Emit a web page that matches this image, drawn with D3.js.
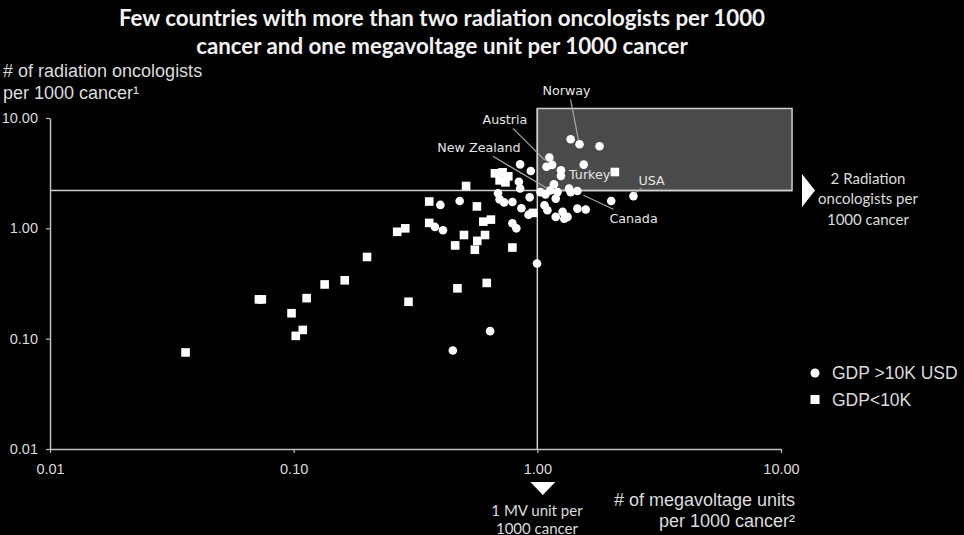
<!DOCTYPE html>
<html><head><meta charset="utf-8">
<script src="https://cdn.jsdelivr.net/npm/d3@7"></script>
<style>html,body{margin:0;background:#000;} svg{display:block;background:#000}</style>
</head><body><svg id="c" width="964" height="535"></svg>
<script>
// ---------------- data ----------------
const titleLines = ["Few countries with more than two radiation oncologists per 1000",
                    "cancer and one megavoltage unit per 1000 cancer"];
const xTicks = [0.01, 0.1, 1, 10];
const xTickLabels = ["0.01", "0.10", "1.00", "10.00"];
const yTicks = [0.01, 0.1, 1, 10];
const yTickLabels = ["0.01", "0.10", "1.00", "10.00"];
const yTitleLines = ["# of radiation oncologists", "per 1000 cancer\u00B9"];
const xTitleLines = ["# of megavoltage units", "per 1000 cancer\u00B2"];
const legendLabels = ["GDP >10K USD", "GDP<10K"];

// GDP > 10K USD (circles): [MV units per 1000 cancer, radiation oncologists per 1000 cancer]
const highGdp = [
  [0.45,0.078],[0.64,0.117],[0.997,0.48],[0.40,1.63],[0.48,1.77],[0.38,1.03],[0.41,0.96],
  [0.85,3.80],[0.94,3.31],[0.84,2.64],[0.85,2.30],[0.69,2.08],[0.70,1.83],[0.73,1.72],
  [0.79,1.73],[0.93,1.91],[0.86,1.52],[0.92,1.33],[0.79,1.11],[0.82,1.00],
  [1.37,6.41],[1.49,5.78],[1.80,5.54],[1.12,4.38],[1.09,3.61],[1.15,3.76],[1.55,3.78],
  [1.25,3.36],[1.25,2.99],[1.17,2.51],[1.13,2.21],[1.21,2.13],[1.35,2.29],[1.46,2.18],
  [1.37,2.13],[1.03,2.13],[1.08,2.03],[1.19,1.86],[2.01,1.77],[2.48,1.96],[1.07,1.62],
  [1.10,1.46],[1.19,1.27],[1.27,1.41],[1.33,1.27],[1.46,1.51],[1.58,1.48],[1.29,1.22]
];
// GDP < 10K (squares)
const lowGdp = [
  [0.036,0.075],[0.072,0.227],[0.074,0.227],[0.098,0.17],[0.102,0.106],[0.109,0.12],
  [0.113,0.233],[0.134,0.31],[0.162,0.338],[0.20,0.55],[0.266,0.93],[0.287,1.0],
  [0.296,0.216],[0.36,1.75],[0.36,1.12],[0.51,2.42],[0.565,1.58],[0.50,0.87],[0.46,0.70],
  [0.61,0.87],[0.60,1.15],[0.645,1.20],[0.567,0.77],[0.554,0.64],[0.79,0.67],[0.47,0.286],
  [0.62,0.32],[0.67,3.15],[0.72,3.22],[0.76,2.96],[0.70,2.72],[0.74,2.61],[0.96,1.38],
  [2.08,3.24]
];

// reference thresholds and highlighted box extent
const refX = 1;      // 1 MV unit per 1000 cancer
const refY = 2.2;    // radiation oncologist line as drawn
const boxXMax = 11.1;
const boxYMax = 12.2;

const countryNames = ["Norway", "Austria", "New Zealand", "Turkey", "USA", "Canada"];
const countryPoints = [[1.49,5.78],[1.09,3.61],[1.13,2.21],[2.08,3.24],[2.48,1.96],[1.46,2.18]];
const rightNote = ["2 Radiation", "oncologists per", "1000 cancer"];
const bottomNote = ["1 MV unit per", "1000 cancer"];

// ---------------- layout ----------------
const labelLayout = {
  "Norway":      {anchor:"middle", tx:-13,  ty:-49.5, line:[-9,-45,-1,-4]},
  "Austria":     {anchor:"middle", tx:-41.5,ty:-43,   line:[-33.5,-38.5,-1.5,-6.5]},
  "New Zealand": {anchor:"middle", tx:-71.3,ty:-38.5, line:[-57.3,-34,-3.3,-2]},
  "Turkey":      {anchor:"end",    tx:-4.5, ty:6.8,   line:null},
  "USA":         {anchor:"start",  tx:5,    ty:-11,   line:[2,-3,8,-8]},
  "Canada":      {anchor:"start",  tx:32,   ty:32,    line:[6,4.3,36,18.3]}
};

const svg = d3.select("#c");
const x = d3.scaleLog().domain([0.01, 10]).range([50, 781]);
const y = d3.scaleLog().domain([0.01, 10]).range([449, 118]);
const axisColor = "#c0c0c0", textColor = "#dcdcdc";
const arial = "'Liberation Sans', Arial, sans-serif";

// title
svg.append("g").selectAll("text").data(titleLines).join("text")
  .attr("x", 442).attr("y", (d,i) => 26 + i*27.5)
  .attr("text-anchor", "middle")
  .attr("font-family", "Lato, 'Open Sans', sans-serif").attr("font-weight", 700)
  .attr("font-size", 22.3).attr("fill", "#f2f2f2").text(d => d);

// highlight box
svg.append("rect")
  .attr("x", x(refX)).attr("y", y(boxYMax))
  .attr("width", x(boxXMax) - x(refX)).attr("height", y(refY) - y(boxYMax))
  .attr("fill", "#4a4a4a").attr("stroke", "#cfcfcf").attr("stroke-width", 1.5);

// reference lines
svg.append("line").attr("x1", x(0.01)).attr("x2", x(boxXMax))
  .attr("y1", y(refY)).attr("y2", y(refY)).attr("stroke", "#d0d0d0").attr("stroke-width", 1.5);
svg.append("line").attr("x1", x(refX)).attr("x2", x(refX))
  .attr("y1", y(boxYMax)).attr("y2", y(0.01)).attr("stroke", "#d0d0d0").attr("stroke-width", 1.5);

// axes
const yAxis = svg.append("g").attr("transform", `translate(${x(0.01)},0)`)
  .call(d3.axisLeft(y).tickValues(yTicks).tickFormat((d,i) => yTickLabels[i])
        .tickSize(4).tickSizeOuter(0).tickPadding(8));
const xAxis = svg.append("g").attr("transform", `translate(0,${y(0.01)})`)
  .call(d3.axisBottom(x).tickValues(xTicks).tickFormat((d,i) => xTickLabels[i])
        .tickSize(4).tickSizeOuter(0).tickPadding(11));
[xAxis, yAxis].forEach(g => {
  g.select(".domain").attr("stroke", axisColor).attr("stroke-width", 1.5);
  g.selectAll(".tick line").attr("stroke", axisColor).attr("stroke-width", 1.2);
  g.selectAll(".tick text").attr("fill", textColor)
    .attr("font-family", arial).attr("font-size", 14.5);
});

// axis titles
svg.append("g").selectAll("text").data(yTitleLines).join("text")
  .attr("x", 3).attr("y", (d,i) => 77 + i*22)
  .attr("font-family", arial).attr("font-size", 18)
  .attr("fill", textColor).text(d => d);
svg.append("g").selectAll("text").data(xTitleLines).join("text")
  .attr("x", 795).attr("y", (d,i) => 506 + i*21).attr("text-anchor", "end")
  .attr("font-family", arial).attr("font-size", 18)
  .attr("fill", textColor).text(d => d);

// markers
svg.append("g").selectAll("rect").data(lowGdp).join("rect")
  .attr("x", d => x(d[0]) - 4.3).attr("y", d => y(d[1]) - 4.3)
  .attr("width", 8.6).attr("height", 8.6).attr("fill", "#fff");
svg.append("g").selectAll("circle").data(highGdp).join("circle")
  .attr("cx", d => x(d[0])).attr("cy", d => y(d[1])).attr("r", 4.3).attr("fill", "#fff");

// country labels
countryNames.forEach((name, i) => {
  const p = countryPoints[i], L = labelLayout[name];
  const px = x(p[0]), py = y(p[1]);
  if (L.line) {
    svg.append("line")
      .attr("x1", px + L.line[0]).attr("y1", py + L.line[1])
      .attr("x2", px + L.line[2]).attr("y2", py + L.line[3])
      .attr("stroke", "#a8a8a8").attr("stroke-width", 1.2);
  }
  svg.append("text").attr("x", px + L.tx).attr("y", py + L.ty)
    .attr("text-anchor", L.anchor)
    .attr("font-family", "'DejaVu Sans', Verdana, sans-serif").attr("font-size", 12.7)
    .attr("fill", "#e6e6e6").text(name);
});

// right annotation (oncologist threshold)
const ry = y(refY);
svg.append("path")
  .attr("d", `M802,${ry-16.5} L815,${ry} L802,${ry+16.5} Z`).attr("fill", "#fff");
svg.append("g").selectAll("text").data(rightNote).join("text")
  .attr("x", 868).attr("y", (d,i) => 183.5 + i*20.5).attr("text-anchor", "middle")
  .attr("font-family", "Lato, 'Open Sans', sans-serif").attr("font-size", 15)
  .attr("fill", textColor).text(d => d);

// bottom annotation (MV threshold)
const bx = x(refX) + 5.5;
svg.append("path")
  .attr("d", `M${bx-12.5},482 L${bx+12.5},482 L${bx},495 Z`).attr("fill", "#fff");
svg.append("g").selectAll("text").data(bottomNote).join("text")
  .attr("x", 537).attr("y", (d,i) => 516 + i*17.5).attr("text-anchor", "middle")
  .attr("font-family", "Lato, 'Open Sans', sans-serif").attr("font-size", 15)
  .attr("fill", textColor).text(d => d);

// legend
const lg = svg.append("g");
lg.append("circle").attr("cx", 815).attr("cy", 373).attr("r", 4.5).attr("fill", "#fff");
lg.append("rect").attr("x", 810.5).attr("y", 395).attr("width", 9).attr("height", 9).attr("fill", "#fff");
lg.selectAll("text").data(legendLabels).join("text")
  .attr("x", 832).attr("y", (d,i) => 379 + i*26.5)
  .attr("font-family", arial).attr("font-size", 17.5)
  .attr("fill", textColor).text(d => d);
</script></body></html>
